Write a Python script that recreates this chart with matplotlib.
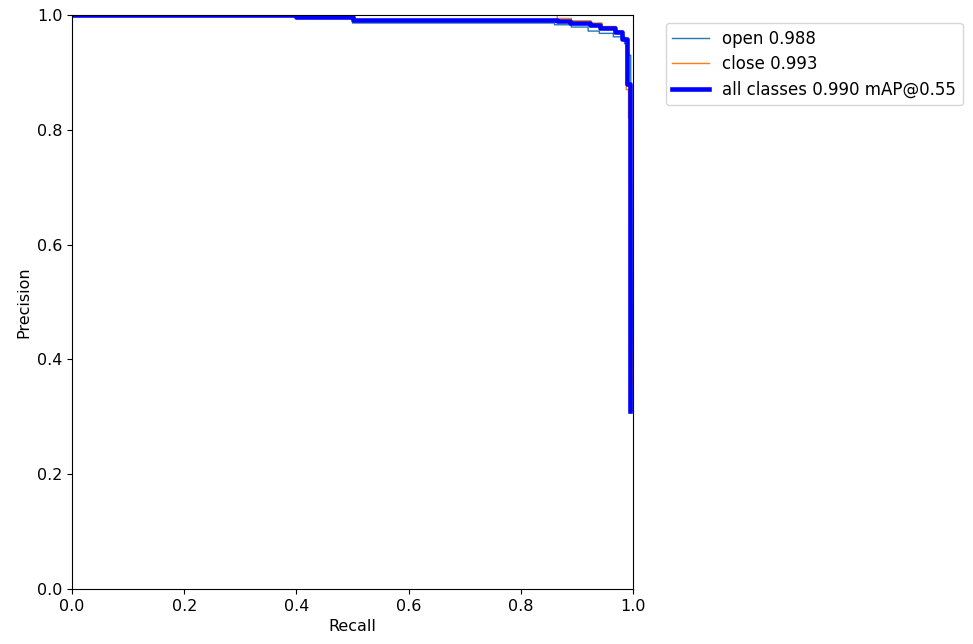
import matplotlib
matplotlib.use("Agg")
import matplotlib.pyplot as plt

recall_open = [0, 0.40, 0.40, 0.50, 0.50, 0.86, 0.86, 0.89, 0.89, 0.92, 0.92, 0.94, 0.94, 0.965, 0.965, 0.985, 0.985, 0.99, 0.99, 0.996, 0.996, 0.998, 1.0]
precision_open = [1, 1, 0.995, 0.995, 0.986, 0.986, 0.983, 0.983, 0.979, 0.979, 0.972, 0.972, 0.968, 0.968, 0.962, 0.962, 0.95, 0.95, 0.93, 0.93, 0.90, 0.6, 0.31]

recall_close = [0, 0.865, 0.865, 0.89, 0.89, 0.925, 0.925, 0.945, 0.945, 0.97, 0.97, 0.982, 0.982, 0.988, 0.988, 0.992, 0.992, 0.995, 0.995, 0.997, 1.0]
precision_close = [1, 1, 0.994, 0.994, 0.99, 0.99, 0.986, 0.986, 0.98, 0.98, 0.972, 0.972, 0.96, 0.96, 0.87, 0.87, 0.82, 0.82, 0.52, 0.45, 0.35]

recall_all = [0, 0.40, 0.40, 0.50, 0.50, 0.865, 0.865, 0.888, 0.888, 0.923, 0.923, 0.941, 0.941, 0.968, 0.968, 0.98, 0.98, 0.989, 0.989, 0.995, 0.995]
precision_all = [1, 1, 0.997, 0.997, 0.992, 0.992, 0.989, 0.989, 0.986, 0.986, 0.982, 0.982, 0.977, 0.977, 0.970, 0.970, 0.958, 0.958, 0.88, 0.88, 0.31]

labels = ["open 0.988", "close 0.993", "all classes 0.990 mAP@0.55"]

fig = plt.figure(figsize=(9.73, 6.44), dpi=100)
ax = fig.add_axes([72/973, 1-589/644, (633-72)/973, (589-15)/644])
ax.plot(recall_open, precision_open, linewidth=1, color="tab:blue", label=labels[0])
ax.plot(recall_close, precision_close, linewidth=1, color="tab:orange", label=labels[1])
ax.plot(recall_all, precision_all, linewidth=3.3, color="blue", label=labels[2])
ax.set_xlim(0, 1)
ax.set_ylim(0, 1)
ax.set_xlabel("Recall", fontsize=11.5)
ax.set_ylabel("Precision", fontsize=11.5)
ax.tick_params(labelsize=11.5)
ax.legend(bbox_to_anchor=(1.058, 0.986), loc="upper left", fontsize=12,
          handlelength=2.2, borderaxespad=0.0, labelspacing=0.45)
fig.savefig("out.png", dpi=100)
